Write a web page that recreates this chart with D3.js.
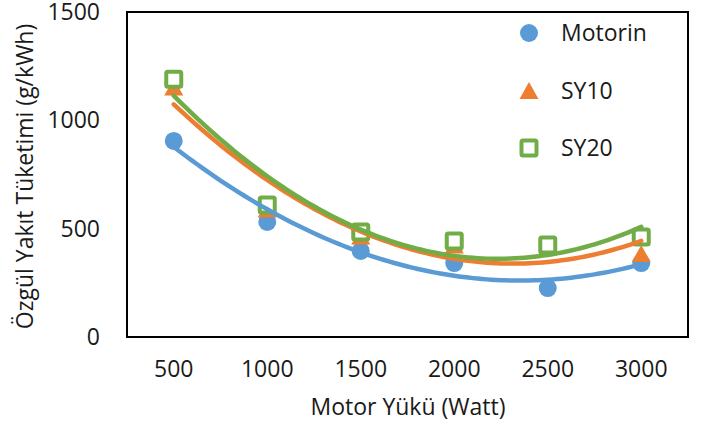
<!DOCTYPE html>
<html>
<head>
<meta charset="utf-8">
<script src="https://cdn.jsdelivr.net/npm/d3@7"></script>
<style>
  html, body { margin: 0; padding: 0; background: #fff; }
  svg { display: block; }
  text { font-family: "Open Sans", Lato, sans-serif; fill: #1a1a1a; }
</style>
</head>
<body>
<svg id="chart" width="702" height="425"></svg>
<script>
// Motor load categories (W)
const loads = [500, 1000, 1500, 2000, 2500, 3000];
// Specific fuel consumption (g/kWh) per fuel
const motorin = [905, 531, 397, 341, 226, 341];
const sy10    = [1154, 591, 466, 425, 415, 385];
const sy20    = [1190, 609, 485, 443, 425, 461];
const yTicks  = [0, 500, 1000, 1500];

const seriesList = [
  { name: "Motorin", values: motorin, color: "#5B9BD5", shape: "circle" },
  { name: "SY10",    values: sy10,    color: "#ED7D31", shape: "triangle" },
  { name: "SY20",    values: sy20,    color: "#70AD47", shape: "square" }
];

const FONT = "23px";
const INK = "#1a1a1a";
const svg = d3.select("#chart");
const plot = { left: 127, right: 688, top: 12, bottom: 337 };

const x = d3.scaleBand().domain(loads).range([plot.left, plot.right]);
const xc = d => x(d) + x.bandwidth() / 2;
const y = d3.scaleLinear().domain([0, 1500]).range([plot.bottom, plot.top]);

// Second-order least-squares fit on category index 1..n (polynomial trendline)
function quadFit(vals) {
  const xs = vals.map((_, i) => i + 1);
  const S = [0, 0, 0, 0, 0], T = [0, 0, 0];
  xs.forEach((xi, i) => {
    for (let k = 0; k < 5; k++) S[k] += Math.pow(xi, k);
    for (let k = 0; k < 3; k++) T[k] += Math.pow(xi, k) * vals[i];
  });
  const M = [[S[0], S[1], S[2]], [S[1], S[2], S[3]], [S[2], S[3], S[4]]];
  const det = m => m[0][0]*(m[1][1]*m[2][2]-m[1][2]*m[2][1]) - m[0][1]*(m[1][0]*m[2][2]-m[1][2]*m[2][0]) + m[0][2]*(m[1][0]*m[2][1]-m[1][1]*m[2][0]);
  const D = det(M);
  const coef = [0, 1, 2].map(c => det(M.map((row, r) => row.map((v, k) => k === c ? T[r] : v))) / D);
  return t => coef[0] + coef[1] * t + coef[2] * t * t;
}

// Axis tick labels
const yAxis = d3.axisLeft(y).tickValues(yTicks).tickFormat(d3.format("d")).tickSize(0).tickPadding(27);
const gy = svg.append("g").attr("transform", `translate(${plot.left},0)`).call(yAxis);
gy.select(".domain").remove();
gy.selectAll("text").style("font-size", FONT).attr("fill", INK);

const xAxis = d3.axisBottom(x).tickSize(0).tickPadding(24);
const gx = svg.append("g").attr("transform", `translate(0,${plot.bottom})`).call(xAxis);
gx.select(".domain").remove();
gx.selectAll("text").style("font-size", FONT).attr("fill", INK);
svg.selectAll(".tick text").attr("font-family", null);

// Axis titles
svg.append("text")
  .attr("x", 408).attr("y", 415)
  .attr("text-anchor", "middle").style("font-size", FONT)
  .text("Motor Yükü (Watt)");
svg.append("text")
  .attr("transform", `translate(33,${(plot.top + plot.bottom) / 2 + 2}) rotate(-90)`)
  .attr("text-anchor", "middle").style("font-size", FONT)
  .text("Özgül Yakıt Tüketimi (g/kWh)");

// Marker drawing
function marker(g, shape, color) {
  if (shape === "circle") {
    g.append("circle").attr("r", 9).attr("fill", color);
  } else if (shape === "triangle") {
    g.append("path").attr("d", "M0,-8.5 L9.5,8.5 L-9.5,8.5 Z").attr("fill", color);
  } else {
    g.append("rect").attr("x", -7.5).attr("y", -7.5).attr("width", 15).attr("height", 15)
      .attr("rx", 1.5).attr("fill", "#fff").attr("stroke", color).attr("stroke-width", 4);
  }
}

const markersLayer = svg.append("g");
seriesList.forEach(s => {
  s.values.forEach((v, i) => {
    const g = markersLayer.append("g").attr("transform", `translate(${xc(loads[i])},${y(v)})`);
    marker(g, s.shape, s.color);
  });
});

// Trendlines
const linesLayer = svg.append("g");
seriesList.forEach(s => {
  const f = quadFit(s.values);
  const pts = d3.range(1, loads.length + 0.001, 0.05).map(t => {
    const px = xc(loads[0]) + (t - 1) * x.step();
    return [px, y(f(t))];
  });
  linesLayer.append("path")
    .attr("d", d3.line()(pts))
    .attr("fill", "none").attr("stroke", s.color)
    .attr("stroke-width", 4.5).attr("stroke-linecap", "round");
});

// Plot border
svg.append("rect")
  .attr("x", plot.left).attr("y", plot.top)
  .attr("width", plot.right - plot.left).attr("height", plot.bottom - plot.top)
  .attr("fill", "none").attr("stroke", "#000").attr("stroke-width", 2);

// Legend
const legend = svg.append("g");
seriesList.forEach((s, i) => {
  const ly = 33 + i * 57.5;
  const g = legend.append("g").attr("transform", `translate(529,${ly})`);
  marker(g, s.shape, s.color);
  legend.append("text").attr("x", 561).attr("y", ly).attr("dy", "0.36em")
    .style("font-size", FONT).text(s.name);
});
</script>
</body>
</html>
